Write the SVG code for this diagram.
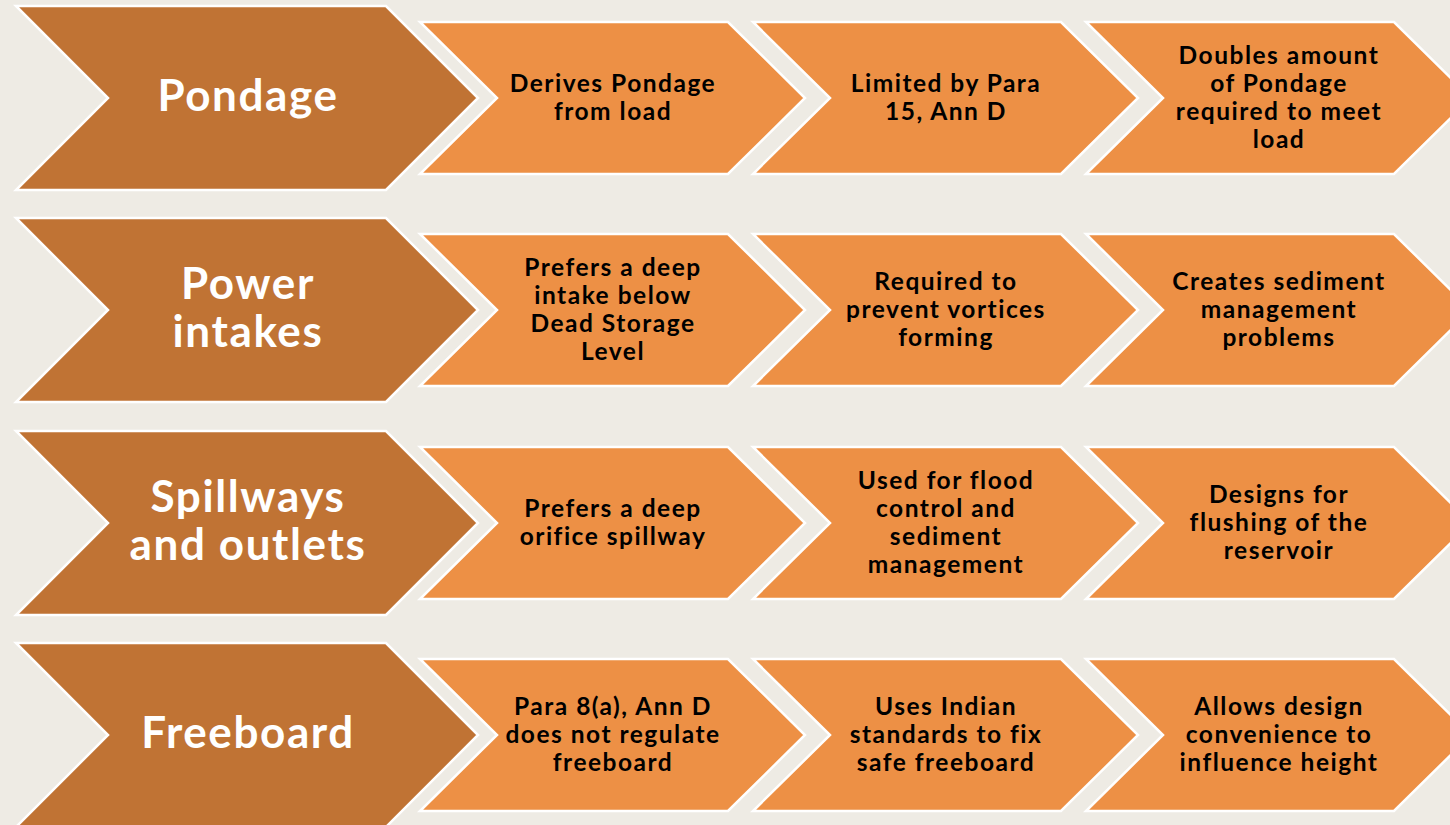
<svg xmlns="http://www.w3.org/2000/svg" width="1450" height="825" viewBox="0 0 1450 825">
<defs>
<style>
.bg{fill:#EEEBE4}
.big{fill:#C07334;stroke:#FFFFFF;stroke-width:2.5;stroke-linejoin:miter}
.sm{fill:#ED9045;stroke:#FFFFFF;stroke-width:2.5;stroke-linejoin:miter}
.tb{font-family:Lato,"Liberation Sans",sans-serif;font-weight:bold;font-size:44px;fill:#FFFFFF;text-anchor:middle;letter-spacing:1.6px}
.ts{font-family:Lato,"Liberation Sans",sans-serif;font-weight:bold;font-size:24.5px;fill:#000000;text-anchor:middle;letter-spacing:1.5px}
</style>
<polygon id="bigShape" points="16,-92 386,-92 478,0 386,92 16,92 108,0"/>
<polygon id="smShape" points="0,-76 308,-76 385,0 308,76 0,76 77,0"/>
</defs>
<rect class="bg" x="0" y="0" width="1450" height="825"/>

<!-- Row 1 -->
<g id="row1-main" transform="translate(0,98)">
<use href="#bigShape" class="big"/>
<text class="tb" x="248" y="13">Pondage</text>
</g>
<g id="row1-a" transform="translate(420,98)">
<use href="#smShape" class="sm"/>
<text class="ts" x="193" y="-6">Derives Pondage</text>
<text class="ts" x="193" y="22">from load</text>
</g>
<g id="row1-b" transform="translate(753,98)">
<use href="#smShape" class="sm"/>
<text class="ts" x="193" y="-6">Limited by Para</text>
<text class="ts" x="193" y="22">15, Ann D</text>
</g>
<g id="row1-c" transform="translate(1086,98)">
<use href="#smShape" class="sm"/>
<text class="ts" x="193" y="-34.5">Doubles amount</text>
<text class="ts" x="193" y="-6.5">of Pondage</text>
<text class="ts" x="193" y="21.5">required to meet</text>
<text class="ts" x="193" y="49.5">load</text>
</g>

<!-- Row 2 -->
<g id="row2-main" transform="translate(0,310)">
<use href="#bigShape" class="big"/>
<text class="tb" x="248" y="-11">Power</text>
<text class="tb" x="248" y="37">intakes</text>
</g>
<g id="row2-a" transform="translate(420,310)">
<use href="#smShape" class="sm"/>
<text class="ts" x="193" y="-34.5">Prefers a deep</text>
<text class="ts" x="193" y="-6.5">intake below</text>
<text class="ts" x="193" y="21.5">Dead Storage</text>
<text class="ts" x="193" y="49.5">Level</text>
</g>
<g id="row2-b" transform="translate(753,310)">
<use href="#smShape" class="sm"/>
<text class="ts" x="193" y="-20">Required to</text>
<text class="ts" x="193" y="8">prevent vortices</text>
<text class="ts" x="193" y="36">forming</text>
</g>
<g id="row2-c" transform="translate(1086,310)">
<use href="#smShape" class="sm"/>
<text class="ts" x="193" y="-20">Creates sediment</text>
<text class="ts" x="193" y="8">management</text>
<text class="ts" x="193" y="36">problems</text>
</g>

<!-- Row 3 -->
<g id="row3-main" transform="translate(0,523)">
<use href="#bigShape" class="big"/>
<text class="tb" x="248" y="-11">Spillways</text>
<text class="tb" x="248" y="37">and outlets</text>
</g>
<g id="row3-a" transform="translate(420,523)">
<use href="#smShape" class="sm"/>
<text class="ts" x="193" y="-6">Prefers a deep</text>
<text class="ts" x="193" y="22">orifice spillway</text>
</g>
<g id="row3-b" transform="translate(753,523)">
<use href="#smShape" class="sm"/>
<text class="ts" x="193" y="-34.5">Used for flood</text>
<text class="ts" x="193" y="-6.5">control and</text>
<text class="ts" x="193" y="21.5">sediment</text>
<text class="ts" x="193" y="49.5">management</text>
</g>
<g id="row3-c" transform="translate(1086,523)">
<use href="#smShape" class="sm"/>
<text class="ts" x="193" y="-20">Designs for</text>
<text class="ts" x="193" y="8">flushing of the</text>
<text class="ts" x="193" y="36">reservoir</text>
</g>

<!-- Row 4 -->
<g id="row4-main" transform="translate(0,735)">
<use href="#bigShape" class="big"/>
<text class="tb" x="248" y="13">Freeboard</text>
</g>
<g id="row4-a" transform="translate(420,735)">
<use href="#smShape" class="sm"/>
<text class="ts" x="193" y="-20">Para 8(a), Ann D</text>
<text class="ts" x="193" y="8">does not regulate</text>
<text class="ts" x="193" y="36">freeboard</text>
</g>
<g id="row4-b" transform="translate(753,735)">
<use href="#smShape" class="sm"/>
<text class="ts" x="193" y="-20">Uses Indian</text>
<text class="ts" x="193" y="8">standards to fix</text>
<text class="ts" x="193" y="36">safe freeboard</text>
</g>
<g id="row4-c" transform="translate(1086,735)">
<use href="#smShape" class="sm"/>
<text class="ts" x="193" y="-20">Allows design</text>
<text class="ts" x="193" y="8">convenience to</text>
<text class="ts" x="193" y="36">influence height</text>
</g>
</svg>
